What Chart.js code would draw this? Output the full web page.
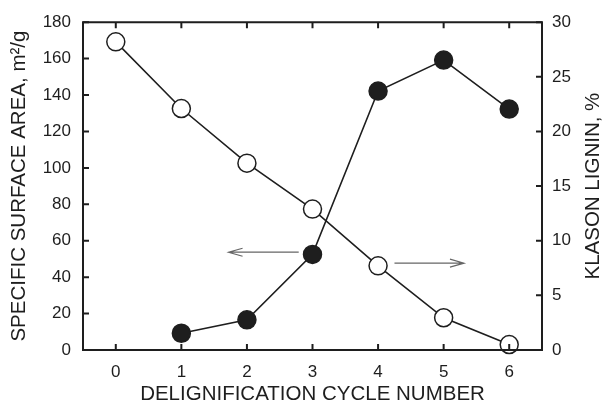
<!DOCTYPE html>
<html>
<head>
<meta charset="utf-8">
<script src="https://cdn.jsdelivr.net/npm/chart.js@4"></script>
<style>
  html, body { margin: 0; padding: 0; background: #fff; }
  .cv-frame { width: 607px; height: 412px; }
</style>
</head>
<body>
<div class="cv-frame"><canvas id="chart"></canvas></div>
<script>
// delignification cycles
const cycles = [0, 1, 2, 3, 4, 5, 6];
// specific surface area, m2/g (left axis, filled circles) - no value at cycle 0
const surfaceArea = [null, 9.2, 16.6, 52.5, 142.2, 159.2, 132.3];
// Klason lignin, % (right axis, open circles)
const klasonLignin = [28.2, 22.1, 17.1, 12.9, 7.7, 2.95, 0.5];
// annotation arrows: [xFrom, xTo, y, axis]
const arrows = [
  [2.79, 1.72, 53.7, 'y'],
  [4.25, 5.31, 7.95, 'y1']
];
const rightTitle = 'KLASON LIGNIN, %';

const FONT = 'Liberation Sans, Arial, sans-serif';
const INK = '#1e1e1e';
const TITLE_SIZE = 20.5;

const toPoints = vals => cycles.map((c, i) => ({ x: c, y: vals[i] })).filter(p => p.y !== null);

// frame, inward ticks on all four sides, arrows, right axis title (reads bottom-to-top)
const framePlugin = {
  id: 'frame',
  afterDraw(chart) {
    const { ctx, chartArea: a, scales } = chart;
    ctx.save();
    ctx.strokeStyle = INK;
    ctx.lineWidth = 2;
    ctx.beginPath();
    ctx.rect(a.left, a.top, a.right - a.left, a.bottom - a.top);
    ctx.stroke();
    const len = 6;
    ctx.beginPath();
    cycles.forEach(c => {
      const px = scales.x.getPixelForValue(c);
      ctx.moveTo(px, a.bottom); ctx.lineTo(px, a.bottom - len);
      ctx.moveTo(px, a.top); ctx.lineTo(px, a.top + len);
    });
    scales.y.ticks.forEach(t => {
      const py = scales.y.getPixelForValue(t.value);
      ctx.moveTo(a.left, py); ctx.lineTo(a.left + len, py);
    });
    scales.y1.ticks.forEach(t => {
      const py = scales.y1.getPixelForValue(t.value);
      ctx.moveTo(a.right, py); ctx.lineTo(a.right - len, py);
    });
    ctx.stroke();

    ctx.strokeStyle = '#666';
    ctx.lineWidth = 1.2;
    arrows.forEach(([x0, x1, yv, axis]) => {
      const p0 = scales.x.getPixelForValue(x0);
      const p1 = scales.x.getPixelForValue(x1);
      const py = scales[axis].getPixelForValue(yv);
      const dir = p1 > p0 ? -1 : 1;
      ctx.beginPath();
      ctx.moveTo(p0, py); ctx.lineTo(p1, py);
      ctx.moveTo(p1 + dir * 14, py - 4); ctx.lineTo(p1, py); ctx.lineTo(p1 + dir * 14, py + 4);
      ctx.stroke();
    });

    ctx.translate(scales.y1.right - 14, (a.top + a.bottom) / 2);
    ctx.rotate(-Math.PI / 2);
    ctx.fillStyle = INK;
    ctx.font = TITLE_SIZE + 'px ' + FONT;
    ctx.textAlign = 'center';
    ctx.textBaseline = 'middle';
    ctx.fillText(rightTitle, 0, 0);
    ctx.restore();
  }
};

new Chart(document.getElementById('chart'), {
  type: 'scatter',
  data: {
    datasets: [
      {
        label: 'Specific surface area',
        data: toPoints(surfaceArea),
        yAxisID: 'y',
        showLine: true,
        borderColor: INK,
        borderWidth: 1.6,
        pointRadius: 9,
        pointBackgroundColor: INK,
        pointBorderColor: INK,
        pointBorderWidth: 1.5
      },
      {
        label: 'Klason lignin',
        data: toPoints(klasonLignin),
        yAxisID: 'y1',
        showLine: true,
        borderColor: INK,
        borderWidth: 1.6,
        pointRadius: 9,
        pointBackgroundColor: '#fff',
        pointBorderColor: INK,
        pointBorderWidth: 1.5
      }
    ]
  },
  options: {
    responsive: true,
    maintainAspectRatio: false,
    animation: false,
    clip: false,
    layout: { padding: { top: 18, left: 0, right: 0, bottom: 0 } },
    plugins: { legend: { display: false }, tooltip: { enabled: false } },
    scales: {
      x: {
        type: 'linear',
        min: -0.5,
        max: 6.5,
        afterBuildTicks: s => { s.ticks = cycles.map(v => ({ value: v })); },
        afterFit: s => { s.height = 62; },
        grid: { display: false, drawTicks: false },
        border: { display: false },
        ticks: { color: INK, font: { family: FONT, size: 17 }, padding: 12 },
        title: {
          display: true,
          text: 'DELIGNIFICATION CYCLE NUMBER',
          color: INK,
          font: { family: FONT, size: TITLE_SIZE },
          padding: { top: 4, bottom: 5 }
        }
      },
      y: {
        position: 'left',
        min: 0,
        max: 180,
        ticks: { stepSize: 20, color: INK, font: { family: FONT, size: 17 }, padding: 12 },
        afterFit: s => { s.width = 83; },
        grid: { display: false, drawTicks: false },
        border: { display: false },
        title: {
          display: true,
          text: 'SPECIFIC SURFACE AREA, m\u00B2/g',
          color: INK,
          font: { family: FONT, size: TITLE_SIZE },
          padding: { top: 7, bottom: 0 }
        }
      },
      y1: {
        position: 'right',
        min: 0,
        max: 30,
        ticks: { stepSize: 5, color: INK, font: { family: FONT, size: 17 }, padding: 10 },
        afterFit: s => { s.width = 65; },
        grid: { display: false, drawTicks: false },
        border: { display: false },
        title: { display: false }
      }
    }
  },
  plugins: [framePlugin]
});
</script>
</body>
</html>
